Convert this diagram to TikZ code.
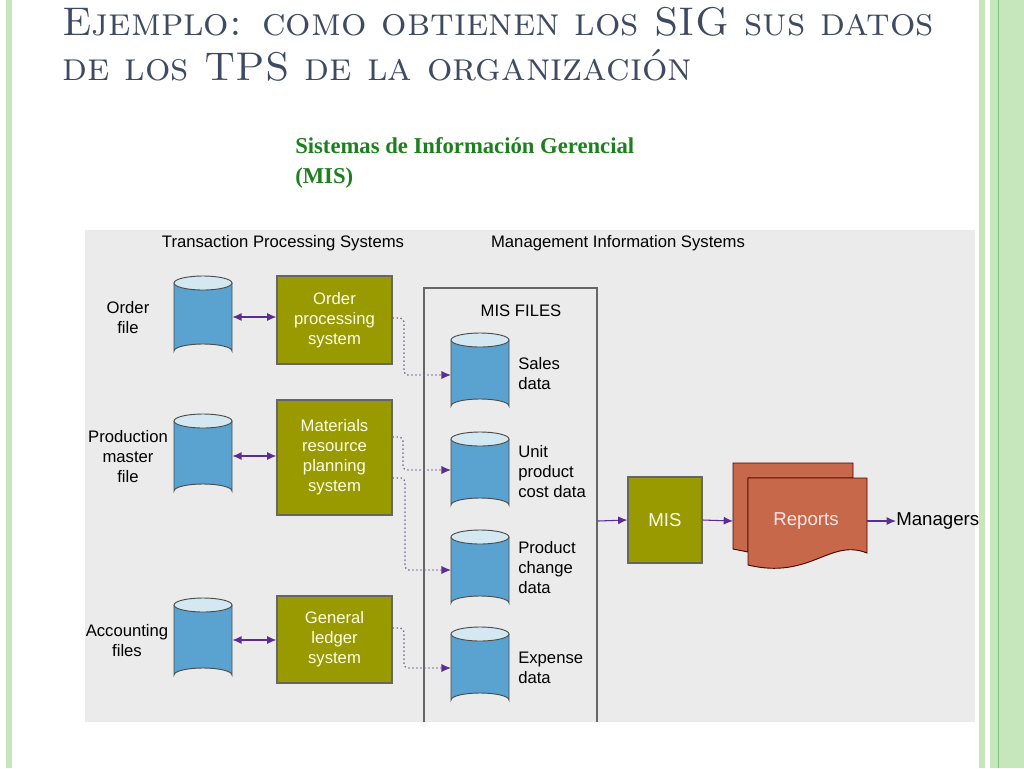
\documentclass[tikz,border=0pt]{standalone}
\usepackage{fontspec}
\newfontfamily\dfont{Liberation Sans}
\usetikzlibrary{arrows.meta}
\definecolor{olive}{HTML}{999900}
\definecolor{cylblue}{HTML}{5AA3D0}
\definecolor{cyltop}{HTML}{D4E8F2}
\definecolor{panel}{HTML}{EBEBEB}
\definecolor{arr}{HTML}{5A2D91}
\definecolor{dots}{HTML}{6E6690}
\definecolor{rep}{HTML}{C8684A}
\definecolor{titlec}{HTML}{3F4A62}
\definecolor{subg}{HTML}{1E7F1E}
\definecolor{stripe}{HTML}{C6E6BC}
\tikzset{
  box/.style={draw=black!60, fill=olive, text=white!92!yellow, font=\dfont\fontsize{12.5}{15}\selectfont, align=center, inner sep=0pt, line width=0.8pt},
  lbl/.style={font=\dfont\fontsize{12.5}{15}\selectfont, align=center, inner sep=0pt},
  lbll/.style={lbl, align=left, anchor=west},
  dbl/.style={{Latex[length=7pt,width=6pt]}-{Latex[length=7pt,width=6pt]}, arr, line width=1pt},
  sarr/.style={-{Latex[length=7pt,width=6pt]}, arr, line width=0.8pt},
  dotarr/.style={dots, line width=1pt, dotted, -{Latex[length=7pt,width=6pt,fill=arr,line width=0pt]}, rounded corners=3pt}
}
\newcommand{\mycyl}[4]{% name, cx, top, bottom
  \fill[cylblue] (#2-29,#3+7) -- (#2-29,#4-7) arc[start angle=180,end angle=360,x radius=29,y radius=7] -- (#2+29,#3+7) -- cycle;
  \draw[black!70, line width=0.7pt] (#2-29,#3+7) -- (#2-29,#4-7) arc[start angle=180,end angle=360,x radius=29,y radius=7] -- (#2+29,#3+7);
  \draw[black!70, fill=cyltop, line width=0.7pt] (#2,#3+7) ellipse[x radius=29, y radius=7];
  \node[minimum width=43.5pt, minimum height={(#4-#3)*0.75pt}, inner sep=0pt] (#1) at (#2,{(#3+#4)/2}) {};
}
\begin{document}
\begin{tikzpicture}[x=0.75pt,y=-0.75pt]
\useasboundingbox (0,0) rectangle (1024,768);
\fill[white] (0,0) rectangle (1024,768);
% stripes
\fill[stripe] (6,0) rectangle (12,768);
\fill[stripe] (979,0) rectangle (985,768);
\fill[stripe] (990,0) rectangle (1024,768);
\draw[green!50!black!50, line width=0.6pt] (998,0) -- (998,768);
% title
\node[anchor=base west, text=titlec, font=\fontsize{30}{36}\selectfont\scshape, inner sep=0pt] (t1) at (62,35) {Ejemplo: como obtienen los SIG sus datos};
\node[anchor=base west, text=titlec, font=\fontsize{30}{36}\selectfont\scshape, inner sep=0pt] (t2) at (62,80) {de los TPS de la organización};
\node[anchor=base west, text=subg, font=\fontspec{Liberation Serif}\bfseries\fontsize{17}{20}\selectfont, inner sep=0pt] (s1) at (295,153) {Sistemas de Información Gerencial};
\node[anchor=base west, text=subg, font=\fontspec{Liberation Serif}\bfseries\fontsize{17}{20}\selectfont, inner sep=0pt] (s2) at (295,183) {(MIS)};
% panel
\fill[panel] (85,230) rectangle (975,722);
\node[lbl] (h1) at (283,243) {Transaction Processing Systems};
\node[lbl] (h2) at (618,243) {Management Information Systems};
\draw[black!60, line width=0.9pt] (424,722) -- (424,288) -- (597,288) -- (597,722);
\node[lbl] (mf) at (521,311) {MIS FILES};
% left cylinders
\mycyl{c1}{203}{276}{358}
\mycyl{c2}{203}{414}{498}
\mycyl{c3}{203}{598}{682}
\node[lbl] (l1) at (128,318) {Order\\file};
\node[lbl] (l2) at (128,457) {Production\\master\\file};
\node[lbl] (l3) at (127,641) {Accounting\\files};
% boxes
\node[box, minimum width=86.25pt, minimum height=66pt] (b1) at (334.5,320) {Order\\processing\\system};
\node[box, minimum width=86.25pt, minimum height=86.25pt] (b2) at (334.5,457.5) {Materials\\resource\\planning\\system};
\node[box, minimum width=86.25pt, minimum height=65.25pt] (b3) at (334.5,639.5) {General\\ledger\\system};
\draw[dbl] (c1.east) -- (b1.west |- c1.east);
\draw[dbl] (c2.east) -- (b2.west |- c2.east);
\draw[dbl] (c3.east) -- (b3.west |- c3.east);
% MIS cylinders
\mycyl{m1}{480}{333}{413}
\mycyl{m2}{480}{432}{512}
\mycyl{m3}{480}{530}{610}
\mycyl{m4}{480}{627}{707}
\node[lbll] (ml1) at (518,374) {Sales\\data};
\node[lbll] (ml2) at (518,472) {Unit\\product\\cost data};
\node[lbll] (ml3) at (518,568) {Product\\change\\data};
\node[lbll] (ml4) at (518,668) {Expense\\data};
% dotted
\draw[dotarr] (b1.east |- 0,318) -- (404,318) -- (404,375) -- (m1.west |- 0,375);
\draw[dotarr] (b2.east |- 0,437) -- (403,437) -- (403,470) -- (m2.west |- 0,470);
\draw[dotarr] (b2.east |- 0,478) -- (405,478) -- (405,570) -- (m3.west |- 0,570);
\draw[dotarr] (b3.east |- 0,628) -- (404,628) -- (404,668) -- (m4.west |- 0,668);
% MIS box
\node[box, minimum width=55.5pt, minimum height=64.5pt, font=\dfont\fontsize{14}{16}\selectfont] (mis) at (665,520) {MIS};
\coordinate (fr) at (598,521);
\draw[sarr] (fr) -- (mis.west);
% reports
\draw[fill=rep, draw=black!70!red, line width=0.7pt] (733,463) -- (853,463) -- (853,478) -- (748,478) -- (748,552) -- (733,549) -- cycle;
\draw[fill=rep, draw=black!70!red, line width=0.7pt] (748,478) -- (867,478) -- (867,553) .. controls (830,538) and (810,580) .. (748,565) -- cycle;
\node[text=white!90!red, font=\dfont\fontsize{14}{16}\selectfont, inner sep=0pt] (rp) at (806,521) {Reports};
\coordinate (rpw) at (733,521);
\coordinate (rpe) at (867,521);
\draw[sarr] (mis.east) -- (rpw);
\node[lbl, anchor=west, font=\dfont\fontsize{14}{16}\selectfont] (mg) at (896,521) {Managers};
\draw[sarr] (rpe) -- (mg.west);
\end{tikzpicture}
\end{document}
